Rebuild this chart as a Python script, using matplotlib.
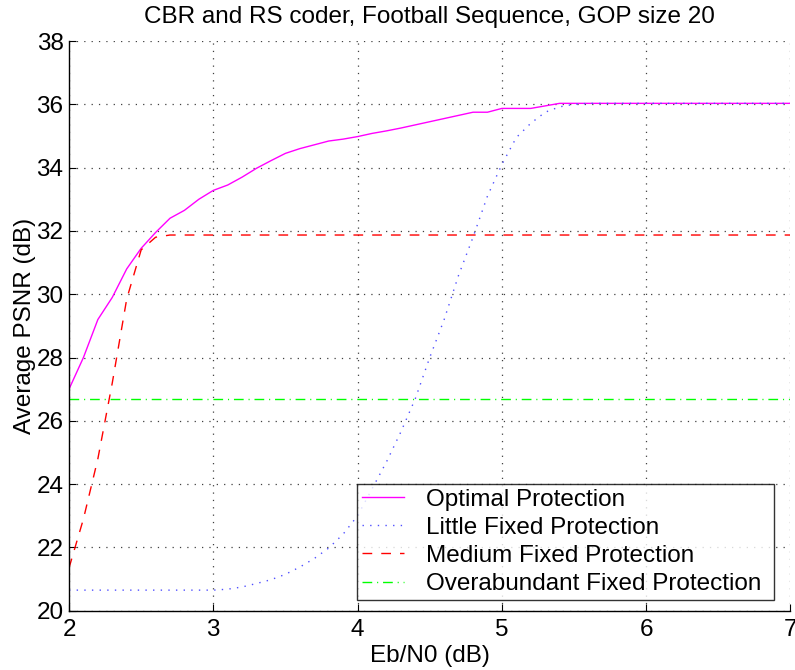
import numpy as np
import matplotlib
matplotlib.use("Agg")
import matplotlib.pyplot as plt

plt.rcParams['font.family'] = ['Liberation Sans', 'DejaVu Sans']
plt.rcParams['lines.scale_dashes'] = False

# -----------------------------
# Data
# -----------------------------
ebn0 = np.round(np.arange(2.0, 7.01, 0.1), 1)

optimal_head = [27.0, 28.0, 29.2, 29.9, 30.8, 31.45, 31.95, 32.4, 32.65, 33.0,
                33.28, 33.45, 33.7, 33.98, 34.22, 34.45, 34.6, 34.72, 34.84, 34.9,
                34.98, 35.08, 35.16, 35.25, 35.35, 35.45, 35.55, 35.65, 35.75, 35.75,
                35.87, 35.87, 35.87, 35.95, 36.03]
little_head = [20.65, 20.65, 20.65, 20.65, 20.65, 20.65, 20.65, 20.65, 20.65, 20.65,
               20.65, 20.68, 20.75, 20.86, 20.98, 21.15, 21.38, 21.65, 21.98, 22.42,
               23.0, 23.85, 24.7, 25.65, 26.7, 28.0, 29.2, 30.6, 31.8, 33.1,
               34.1, 34.95, 35.4, 35.75, 35.92, 36.0]
medium_head = [21.35, 22.9, 24.8, 27.2, 29.85, 31.4, 31.8]

optimal = optimal_head + [36.03] * (len(ebn0) - len(optimal_head))
little = little_head + [36.03] * (len(ebn0) - len(little_head))
medium = medium_head + [31.87] * (len(ebn0) - len(medium_head))
overabundant = [26.7] * len(ebn0)

labels = ["Optimal Protection", "Little Fixed Protection",
          "Medium Fixed Protection", "Overabundant Fixed Protection"]

# -----------------------------
# Plot
# -----------------------------
FS = 17.5
fig = plt.figure(figsize=(7.95, 6.7), dpi=100)
ax = fig.add_axes([0.0868, 0.0885, 0.9075, 0.8503])

ax.plot(ebn0, optimal, color='#ff00ff', lw=1.0, label=labels[0])
ax.plot(ebn0, little, color='#5050ff', lw=1.0, linestyle=(0, (1, 4.5)), label=labels[1])
ax.plot(ebn0, medium, color='#ff0000', lw=1.0, linestyle=(0, (7, 6.5)), label=labels[2])
ax.plot(ebn0, overabundant, color='#00ff00', lw=1.0,
        linestyle=(0, (7, 3.5, 0.8, 3.5)), label=labels[3])

ax.set_xlim(2, 7)
ax.set_ylim(20, 38)
ax.set_xticks(range(2, 8))
ax.set_yticks(range(20, 39, 2))

ax.grid(True, color='0.25', linestyle=(0, (0.9, 4.4)), linewidth=0.9)
ax.spines['top'].set_visible(False)
ax.spines['right'].set_visible(False)
ax.spines['left'].set_linewidth(1.0)
ax.spines['bottom'].set_linewidth(1.0)
ax.tick_params(direction='in', length=5, width=0.8, labelsize=FS)
ax.tick_params(axis='x', pad=6)
ax.tick_params(axis='y', pad=4)

ax.set_xlabel("Eb/N0 (dB)", fontsize=FS, labelpad=3)
ax.set_ylabel("Average PSNR (dB)", fontsize=FS, labelpad=0)
ax.set_title("CBR and RS coder, Football Sequence, GOP size 20", fontsize=FS, pad=13)

leg = ax.legend(loc='lower left', bbox_to_anchor=(0.399, 0.019, 0.578, 0.2),
                mode='expand', borderaxespad=0,
                fontsize=FS, frameon=True, fancybox=False, handlelength=1.75,
                labelspacing=0.25, borderpad=0.2, handletextpad=0.9)
leg.get_frame().set_edgecolor('black')
leg.get_frame().set_linewidth(1.0)

fig.savefig("out.png", dpi=100)
